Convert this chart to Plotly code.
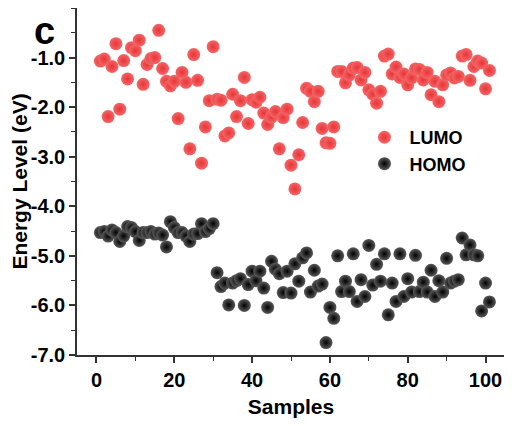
import plotly.graph_objects as go

# sample index
samples = list(range(1, 102))

# LUMO energy levels (eV)
lumo = [-1.07, -1.03, -2.19, -1.18, -0.72, -2.04, -1.06, -1.43, -0.80, -0.86,
        -0.65, -1.54, -1.14, -1.02, -1.00, -0.45, -1.22, -1.48, -1.57, -1.48,
        -2.23, -1.30, -1.50, -2.84, -0.94, -1.46, -3.13, -2.40, -1.87, -0.78,
        -1.84, -1.86, -2.58, -2.52, -1.74, -2.19, -1.87, -1.40, -2.33, -1.85,
        -1.90, -1.80, -2.12, -2.35, -2.20, -2.09, -2.84, -2.21, -2.04, -3.17,
        -3.65, -2.96, -2.31, -1.62, -1.68, -1.89, -1.68, -2.43, -2.72, -2.73,
        -2.40, -1.28, -1.28, -1.51, -1.35, -1.21, -1.20, -1.45, -1.30, -1.65,
        -1.74, -1.92, -1.68, -0.97, -0.93, -1.33, -1.19, -1.40, -1.33, -1.55,
        -1.41, -1.23, -1.24, -1.45, -1.30, -1.75, -1.48, -1.89, -1.55, -1.35,
        -1.31, -1.41, -1.38, -0.97, -0.94, -1.46, -1.18, -1.07, -1.11, -1.63,
        -1.26]

# HOMO energy levels (eV)
homo = [-4.53, -4.51, -4.60, -4.48, -4.53, -4.71, -4.60, -4.41, -4.43, -4.51,
        -4.69, -4.53, -4.53, -4.51, -4.56, -4.54, -4.58, -4.82, -4.31, -4.43,
        -4.53, -4.53, -4.60, -4.71, -4.56, -4.55, -4.35, -4.51, -4.45, -4.35,
        -5.34, -5.62, -5.55, -5.99, -5.55, -5.50, -5.46, -6.00, -5.58, -5.31,
        -5.50, -5.31, -5.65, -6.04, -5.11, -5.27, -5.36, -5.74, -5.31, -5.75,
        -5.16, -5.51, -5.04, -4.94, -5.73, -5.29, -5.61, -5.57, -6.75, -6.04,
        -6.26, -5.00, -5.72, -5.51, -5.72, -4.96, -5.92, -5.48, -5.82, -4.79,
        -5.59, -5.17, -5.51, -4.96, -6.19, -5.55, -5.92, -4.96, -5.82, -5.46,
        -5.73, -4.99, -5.72, -5.53, -5.73, -5.29, -5.82, -5.50, -5.73, -5.05,
        -5.55, -5.51, -5.48, -4.64, -4.98, -4.78, -4.98, -5.00, -6.11, -5.55,
        -5.93]

y_ticks = [-7, -6, -5, -4, -3, -2, -1]
x_ticks = [0, 20, 40, 60, 80, 100]

font = "Arial, Liberation Sans, sans-serif"
axis_col = "#333333"

fig = go.Figure()

# sphere-ish markers via radial gradient
fig.add_trace(go.Scatter(
    x=samples, y=lumo, mode="markers", name="LUMO",
    marker=dict(size=13, color="#f46666", line=dict(width=0),
                gradient=dict(type="radial", color="#e83438"))))
fig.add_trace(go.Scatter(
    x=samples, y=homo, mode="markers", name="HOMO",
    marker=dict(size=13, color="#5a5a5a", line=dict(width=0),
                gradient=dict(type="radial", color="#000000"))))

# page body adds 8px offset, so margins are shifted to compensate
fig.update_layout(
    width=512, height=426,
    margin=dict(l=69, r=15, t=0, b=79),
    paper_bgcolor="white", plot_bgcolor="white",
    font=dict(family=font, size=15, color="black"),
    legend=dict(x=0.66, y=0.68, xanchor="left", yanchor="top",
                font=dict(size=18, family=font, weight="bold"),
                bgcolor="rgba(0,0,0,0)", itemwidth=40),
    annotations=[dict(text="<b>c</b>", x=-0.105, y=1.0, xref="paper", yref="paper",
                      xanchor="left", yanchor="top", showarrow=False,
                      font=dict(size=38, family=font, color="black"))],
    xaxis=dict(
        range=[-5, 105], tickmode="array", tickvals=x_ticks,
        ticks="outside", ticklen=6, tickwidth=1.5, tickcolor=axis_col,
        showline=True, linecolor=axis_col, linewidth=1.5, mirror=True,
        showgrid=False, zeroline=False, automargin=False,
        tickfont=dict(size=20, family=font, weight="bold"),
        minor=dict(tickmode="linear", tick0=0, dtick=10, ticks="outside",
                   ticklen=4, tickwidth=1.2, tickcolor=axis_col, showgrid=False),
        title=dict(text="Samples", standoff=10,
                   font=dict(size=21, family=font, weight="bold"))),
    yaxis=dict(
        range=[-7, 0], tickmode="array", tickvals=y_ticks,
        ticktext=[f"{v:.1f}" for v in y_ticks],
        ticks="outside", ticklen=6, tickwidth=1.5, tickcolor=axis_col,
        showline=True, linecolor=axis_col, linewidth=1.5, mirror=True,
        showgrid=False, zeroline=False, automargin=False,
        tickfont=dict(size=20, family=font, weight="bold"),
        minor=dict(tickmode="linear", tick0=0, dtick=0.5, ticks="outside",
                   ticklen=4, tickwidth=1.2, tickcolor=axis_col, showgrid=False),
        title=dict(text="Energy Level (eV)", standoff=4,
                   font=dict(size=21, family=font, weight="bold"))),
)

fig.write_html("out.html")
